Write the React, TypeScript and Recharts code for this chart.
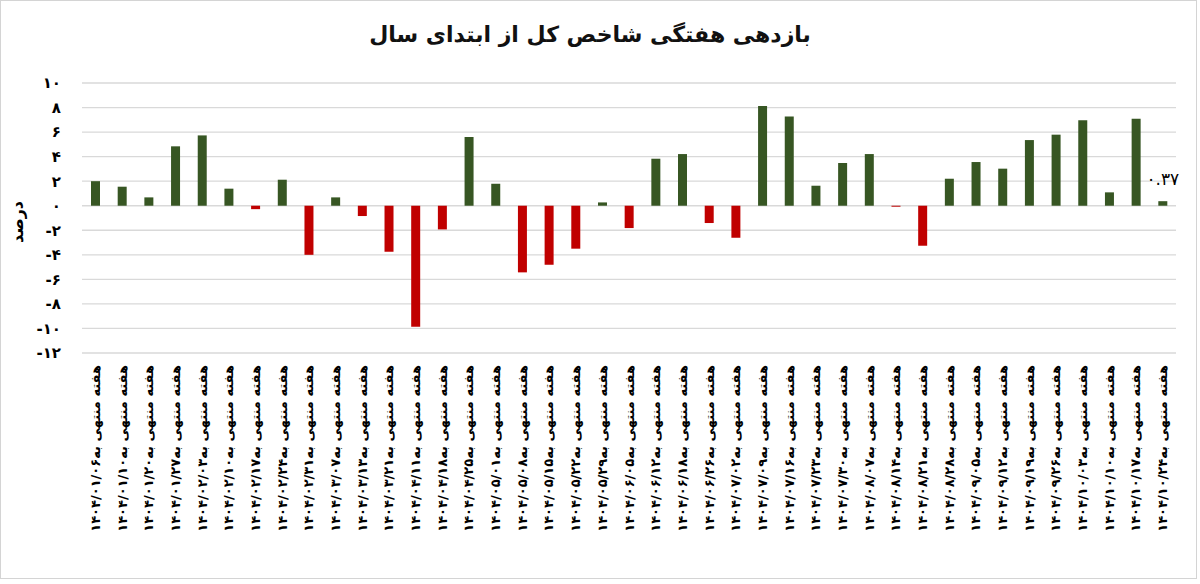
import React from "react";
import { BarChart, Bar, XAxis, YAxis, CartesianGrid, Cell } from "recharts";

// week-ending dates (Jalali, Persian digits)
const weekEnds: string[] = [
  "۱۴۰۴/۰۱/۰۶", "۱۴۰۴/۰۱/۱۰", "۱۴۰۴/۰۱/۲۰", "۱۴۰۴/۰۱/۲۷", "۱۴۰۴/۰۲/۰۳",
  "۱۴۰۴/۰۲/۱۰", "۱۴۰۴/۰۲/۱۷", "۱۴۰۴/۰۲/۲۴", "۱۴۰۴/۰۲/۳۱", "۱۴۰۴/۰۳/۰۷",
  "۱۴۰۴/۰۳/۱۳", "۱۴۰۴/۰۳/۲۱", "۱۴۰۴/۰۴/۱۱", "۱۴۰۴/۰۴/۱۸", "۱۴۰۴/۰۴/۲۵",
  "۱۴۰۴/۰۵/۰۱", "۱۴۰۴/۰۵/۰۸", "۱۴۰۴/۰۵/۱۵", "۱۴۰۴/۰۵/۲۲", "۱۴۰۴/۰۵/۲۹",
  "۱۴۰۴/۰۶/۰۵", "۱۴۰۴/۰۶/۱۲", "۱۴۰۴/۰۶/۱۸", "۱۴۰۴/۰۶/۲۶", "۱۴۰۴/۰۷/۰۲",
  "۱۴۰۴/۰۷/۰۹", "۱۴۰۴/۰۷/۱۶", "۱۴۰۴/۰۷/۲۳", "۱۴۰۴/۰۷/۳۰", "۱۴۰۴/۰۸/۰۷",
  "۱۴۰۴/۰۸/۱۴", "۱۴۰۴/۰۸/۲۱", "۱۴۰۴/۰۸/۲۸", "۱۴۰۴/۰۹/۰۵", "۱۴۰۴/۰۹/۱۲",
  "۱۴۰۴/۰۹/۱۹", "۱۴۰۴/۰۹/۲۶", "۱۴۰۴/۱۰/۰۳", "۱۴۰۴/۱۰/۱۰", "۱۴۰۴/۱۰/۱۷",
  "۱۴۰۴/۱۰/۲۴",
];

// weekly return of the total index, percent
const weeklyReturns: number[] = [
  2.0, 1.55, 0.68, 4.84, 5.73, 1.39, -0.28, 2.12, -4.0, 0.68,
  -0.84, -3.75, -9.86, -1.93, 5.6, 1.79, -5.43, -4.81, -3.5, 0.27,
  -1.82, 3.83, 4.21, -1.41, -2.61, 8.13, 7.28, 1.63, 3.48, 4.21,
  -0.08, -3.26, 2.2, 3.56, 3.02, 5.35, 5.79, 6.96, 1.09, 7.09,
  0.37,
];

const yTicks: number[] = [-12, -10, -8, -6, -4, -2, 0, 2, 4, 6, 8, 10];

const weekPrefix = "هفته منتهی به";
const faDigits = "۰۱۲۳۴۵۶۷۸۹";
const toFa = (s: string) => s.replace(/[0-9]/g, (d) => faDigits[+d]);

const data = weekEnds.map((w, i) => ({ week: w, value: weeklyReturns[i] }));

const FONT = "'DejaVu Sans', sans-serif";

const WeekTick = (props: any) => {
  const { x, y, payload } = props;
  return (
    <text
      x={x}
      y={y}
      transform={`rotate(-90, ${x}, ${y})`}
      textAnchor="end"
      dominantBaseline="central"
      fontSize={13}
      fontWeight="bold"
      fontFamily={FONT}
      fill="#000"
    >
      {weekPrefix + payload.value}
    </text>
  );
};

const lastBarLabel = (props: any) => {
  const { x, y, width, index, value } = props;
  if (index !== data.length - 1) return null;
  return (
    <text
      x={x + width / 2}
      y={y - 22}
      textAnchor="middle"
      dominantBaseline="central"
      fontSize={17}
      fontFamily={FONT}
      fill="#000"
    >
      {toFa(Number(value).toFixed(2))}
    </text>
  );
};

const App: React.FC = () => {
  return (
    <div style={{ position: "absolute", left: 0, top: 0, width: 1200, height: 584, background: "#fff" }}>
      <div
        style={{
          position: "absolute",
          left: 0,
          top: 0,
          width: 1197,
          height: 579,
          border: "1px solid #d4d4d4",
          boxSizing: "border-box",
        }}
      />
      <div
        style={{
          position: "absolute",
          left: 0,
          top: 22,
          width: 1180,
          textAlign: "center",
          direction: "rtl",
          fontFamily: FONT,
          fontWeight: "bold",
          fontSize: 22,
          color: "#111",
        }}
      >
        بازدهی هفتگی شاخص کل از ابتدای سال
      </div>
      <BarChart
        width={1200}
        height={584}
        data={data}
        margin={{ top: 83, right: 24, left: 0, bottom: 0 }}
        barCategoryGap={0}
      >
        <CartesianGrid vertical={false} stroke="#d9d9d9" strokeWidth={1.3} />
        <XAxis
          dataKey="week"
          interval={0}
          height={231}
          axisLine={false}
          tickLine={false}
          tickMargin={6}
          tick={<WeekTick />}
        />
        <YAxis
          width={82}
          domain={[-12, 10]}
          ticks={yTicks}
          interval={0}
          axisLine={false}
          tickLine={false}
          tickMargin={15}
          tickFormatter={(v: number) => toFa(String(v))}
          tick={{ fontSize: 15, fontWeight: "bold", fill: "#000", fontFamily: FONT }}
          label={{
            content: (p: any) => {
              const vb = p.viewBox || { x: 0, y: 83, height: 270 };
              const cx = vb.x + 17;
              const cy = vb.y + vb.height / 2 + 4;
              return (
                <text
                  x={cx}
                  y={cy}
                  transform={`rotate(-90, ${cx}, ${cy})`}
                  textAnchor="middle"
                  dominantBaseline="central"
                  fontSize={16}
                  fontWeight="bold"
                  fontFamily={FONT}
                  fill="#000"
                >
                  درصد
                </text>
              );
            },
          }}
        />
        <Bar dataKey="value" barSize={9} isAnimationActive={false} label={lastBarLabel}>
          {data.map((d, i) => (
            <Cell key={i} fill={d.value >= 0 ? "#375623" : "#C00000"} />
          ))}
        </Bar>
      </BarChart>
    </div>
  );
};

export default App;
